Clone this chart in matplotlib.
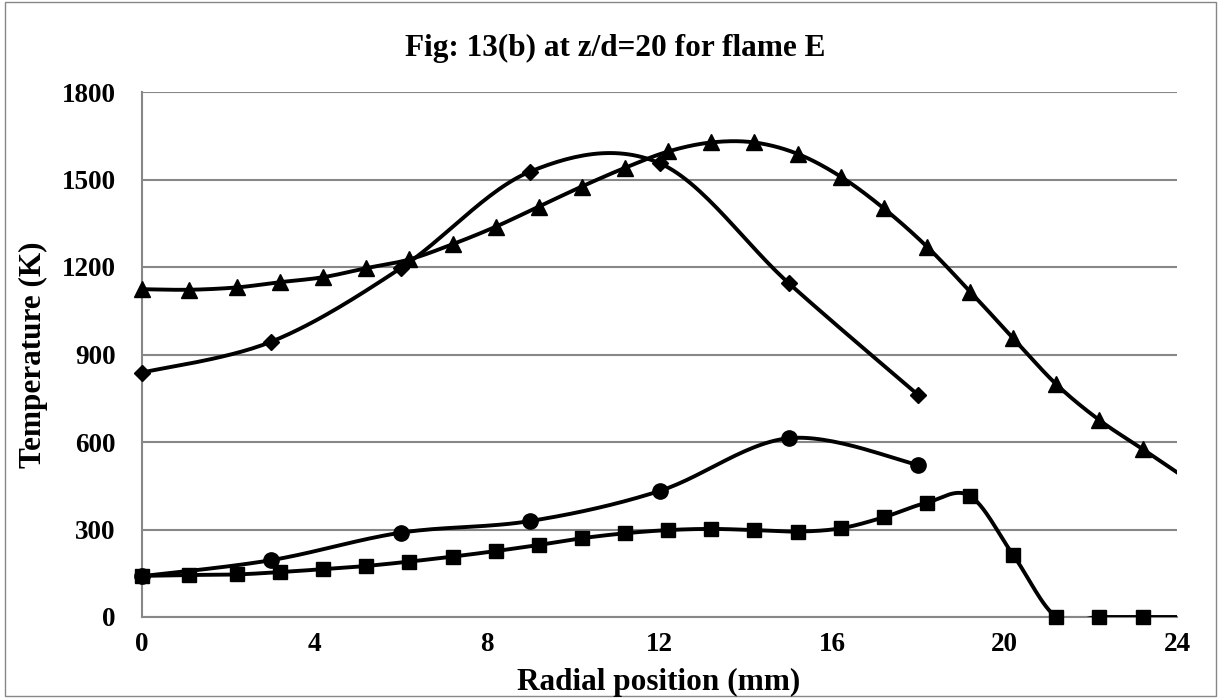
import matplotlib
matplotlib.use('Agg')
import matplotlib.pyplot as plt
import numpy as np

# Data
x_fine = [0, 1.1, 2.2, 3.2, 4.2, 5.2, 6.2, 7.2, 8.2, 9.2, 10.2, 11.2, 12.2,
          13.2, 14.2, 15.2, 16.2, 17.2, 18.2, 19.2, 20.2, 21.2, 22.2, 23.2, 24.2]
temp_triangle = [1124, 1122, 1130, 1148, 1165, 1196, 1226, 1278, 1338, 1407, 1476, 1540, 1596,
                 1627, 1627, 1588, 1510, 1401, 1270, 1116, 956, 798, 675, 576, 476]
temp_square = [141, 144, 146, 154, 164, 175, 190, 207, 226, 247, 270, 287, 298,
               302, 298, 293, 304, 342, 392, 415, 213, 0, 0, 0, 0]

x_coarse = [0, 3, 6, 9, 12, 15, 18]
temp_diamond = [838, 944, 1196, 1527, 1556, 1144, 761]
temp_circle = [140, 195, 289, 329, 432, 613, 521]

X_MAX = 24


def smooth(xs, ys, n=30):
    # Excel-style smoothed line (Catmull-Rom Bezier, 1/6 tension)
    p = np.column_stack([xs, ys]).astype(float)
    p_ext = np.vstack([p[0], p, p[-1]])
    out = []
    t = np.linspace(0, 1, n)[:, None]
    for i in range(1, len(p_ext) - 2):
        p0, p1, p2, p3 = p_ext[i - 1], p_ext[i], p_ext[i + 1], p_ext[i + 2]
        b1 = p1 + (p2 - p0) / 6
        b2 = p2 - (p3 - p1) / 6
        seg = ((1 - t) ** 3) * p1 + 3 * ((1 - t) ** 2) * t * b1 + 3 * (1 - t) * t ** 2 * b2 + t ** 3 * p2
        out.append(seg if i == 1 else seg[1:])
    out = np.vstack(out)
    return out[:, 0], out[:, 1]


plt.rcParams['font.family'] = 'Liberation Serif'
plt.rcParams['font.weight'] = 'bold'

W, H = 1221, 698
fig = plt.figure(figsize=(W / 100, H / 100), dpi=100)
ax = fig.add_axes([142 / W, 1 - 617 / H, (1177 - 142) / W, (617 - 92) / H])

series = [
    (x_fine, temp_triangle, '^', 12),
    (x_fine, temp_square, 's', 10.5),
    (x_coarse, temp_diamond, 'D', 8.5),
    (x_coarse, temp_circle, 'o', 11),
]
for xs, ys, mk, ms in series:
    sx, sy = smooth(xs, ys)
    ax.plot(sx, sy, color='black', linewidth=2.8, zorder=3, solid_capstyle='butt')
    xa, ya = np.array(xs), np.array(ys)
    keep = xa <= X_MAX
    ax.plot(xa[keep], ya[keep], linestyle='none', marker=mk, markersize=ms,
            color='black', zorder=4, clip_on=False)

ax.set_xlim(0, X_MAX)
ax.set_ylim(0, 1800)
ax.set_xticks(range(0, 25, 4))
ax.set_yticks(range(0, 1801, 300))
ax.grid(axis='y', color='#878787', linewidth=1.5)
ax.set_axisbelow(True)
ax.tick_params(axis='y', length=0, labelsize=19.5, pad=19)
ax.tick_params(axis='x', length=0, labelsize=19.5, pad=11)
for lbl in ax.get_xticklabels() + ax.get_yticklabels():
    lbl.set_fontweight('bold')
for side in ['top', 'right']:
    ax.spines[side].set_visible(False)
for side in ['left', 'bottom']:
    ax.spines[side].set_color('#878787')
    ax.spines[side].set_linewidth(1.5)

fig.text(615 / W, 1 - 48 / H, 'Fig: 13(b) at z/d=20 for flame E', fontsize=22.5,
         fontweight='bold', ha='center', va='center')
fig.text(659 / W, 1 - 682 / H, 'Radial position (mm)', fontsize=22.5,
         fontweight='bold', ha='center', va='center')
fig.text(33 / W, 1 - 355 / H, 'Temperature (K)', fontsize=22.5, fontweight='bold',
         ha='center', va='center', rotation=90)

# thin frame around the chart area
fig.patches.append(plt.Rectangle((0.004, 0.003), 0.992, 0.994, transform=fig.transFigure,
                                 fill=False, edgecolor='#878787', linewidth=1))

fig.savefig('out.png', dpi=100)
